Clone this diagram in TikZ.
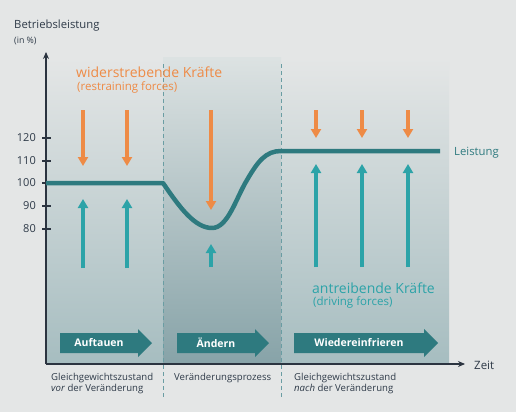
\documentclass[tikz,border=0pt]{standalone}
\usepackage{fontspec}
\setmainfont{Open Sans}
\usetikzlibrary{arrows.meta}
\definecolor{bgc}{HTML}{E4E6E6}
\definecolor{panelbot}{HTML}{A6BDC0}
\definecolor{midtop}{HTML}{DCE2E2}
\definecolor{midbot}{HTML}{87A3A8}
\definecolor{lineteal}{HTML}{2E7A7F}
\definecolor{arrteal}{HTML}{2CA3A8}
\definecolor{orng}{HTML}{EE8B46}
\definecolor{axiscol}{HTML}{2B3440}
\definecolor{dashcol}{HTML}{6A9DA3}
\definecolor{txtcol}{HTML}{2E3A48}
\tikzset{
  axisline/.style={draw=axiscol, line width=1.1pt},
  leist/.style={draw=lineteal, line width=4.5pt},
  forceo/.style={draw=orng, line width=3.2pt, -{Triangle[width=10pt,length=9pt]}},
  forcet/.style={draw=arrteal, line width=3.2pt, -{Triangle[width=10pt,length=9pt]}},
  phase/.style={draw=dashcol, line width=1pt, dash pattern=on 4pt off 3pt},
  ticklab/.style={anchor=east, inner sep=0pt, text=txtcol, font=\fontsize{11}{13}\selectfont},
  blocktxt/.style={inner sep=0pt, text=white, font=\bfseries\fontsize{10.5}{12}\selectfont},
  bottxt/.style={anchor=north west, inner sep=0pt, align=left, text=txtcol, font=\fontsize{9.6}{11}\selectfont},
}
\newcommand\myblockarrow[5]{% x0, xhead, xtip, name, text
  \fill[lineteal] (#1,333) -- (#2,333) -- (#2,329) -- (#3,343) -- (#2,357) -- (#2,353) -- (#1,353) -- cycle;
  \node[blocktxt] (#4) at ({(#1+#2)/2},343) {#5};
}
\begin{document}
\begin{tikzpicture}[x=1pt,y=-1pt]
\fill[bgc] (0,0) rectangle (516,412);
\useasboundingbox (0,0) rectangle (516,412);
% panels
\shade[top color=bgc, bottom color=panelbot] (46,58) rectangle (449,364);
\shade[top color=midtop, bottom color=midbot] (163,58) rectangle (281,364);
% phase separators
\draw[phase] (163,64) -- (163,397);
\draw[phase] (281,64) -- (281,397);
% axes
\coordinate (O) at (46,364);
\coordinate (ytop) at (46,52);
\coordinate (xend) at (465,364);
\draw[axisline, -{Stealth[length=7pt,width=6pt]}] (O) -- (ytop);
\draw[axisline, -{Stealth[length=7pt,width=6pt]}] (O) -- (xend);
\node[anchor=west, inner sep=0pt, text=txtcol, font=\fontsize{11.5}{13}\selectfont] (zeit) at (474,365) {Zeit};
\node[anchor=west, inner sep=0pt, text=txtcol, font=\fontsize{11.3}{13}\selectfont] (ylab) at (14,26) {Betriebsleistung};
\node[anchor=west, inner sep=0pt, text=txtcol, font=\fontsize{8.8}{10}\selectfont] (yunit) at (14,41) {(in \%)};
% ticks
\foreach \v/\yy in {120/138,110/161,100/183,90/206,80/229}{
  \draw[axisline] (42,\yy) -- (51,\yy);
  \node[ticklab] (t\v) at (36,\yy) {\v};
}
% Leistung curve
\coordinate (L0) at (46,183);
\coordinate (L1) at (163,183);
\coordinate (Lmin) at (212,228);
\coordinate (Lmid) at (247,180);
\coordinate (L2) at (281,151);
\coordinate (L3) at (440,151);
\draw[leist, line join=round] (L0) -- (L1) .. controls (180,208) and (195,228) .. (Lmin)
  .. controls (228,228) and (236,198) .. (Lmid)
  .. controls (258,161) and (266,151) .. (L2) -- (L3);
\node[anchor=west, inner sep=0pt, text=lineteal, font=\fontsize{11.3}{13}\selectfont] (leistung) at (454,153) {Leistung};
% restraining forces
\foreach \xx in {83,127}{ \draw[forceo] (\xx,110) -- (\xx,166); }
\draw[forceo] (211,110) -- (211,210);
\foreach \xx in {316,362,408}{ \draw[forceo] (\xx,110) -- (\xx,138); }
% driving forces
\foreach \xx in {83,127}{ \draw[forcet] (\xx,268) -- (\xx,199); }
\draw[forcet] (211,267) -- (211,244);
\foreach \xx in {316,362,408}{ \draw[forcet] (\xx,267) -- (\xx,164); }
% force labels
\node[anchor=west, inner sep=0pt, text=orng, font=\fontsize{14}{17}\selectfont] (wid) at (76,72) {widerstrebende Kräfte};
\node[anchor=west, inner sep=0pt, text=orng, font=\fontsize{11.5}{12}\selectfont] (restr) at (77,87) {(restraining forces)};
\node[anchor=west, inner sep=0pt, text=arrteal, font=\fontsize{14}{17}\selectfont] (antr) at (312,288) {antreibende Kräfte};
\node[anchor=west, inner sep=0pt, text=arrteal, font=\fontsize{11.5}{12}\selectfont] (driv) at (313,302) {(driving forces)};
% block arrows
\myblockarrow{60}{138}{152}{b1}{Auftauen}
\myblockarrow{177}{255}{269}{b2}{Ändern}
\myblockarrow{294}{424}{438}{b3}{Wiedereinfrieren}
% bottom labels
\node[bottxt] (p1) at (51,373) {Gleichgewichtszustand\\\textit{vor} der Veränderung};
\node[bottxt] (p2) at (174,373) {Veränderungsprozess};
\node[bottxt] (p3) at (294,373) {Gleichgewichtszustand\\\textit{nach} der Veränderung};
\end{tikzpicture}
\end{document}
